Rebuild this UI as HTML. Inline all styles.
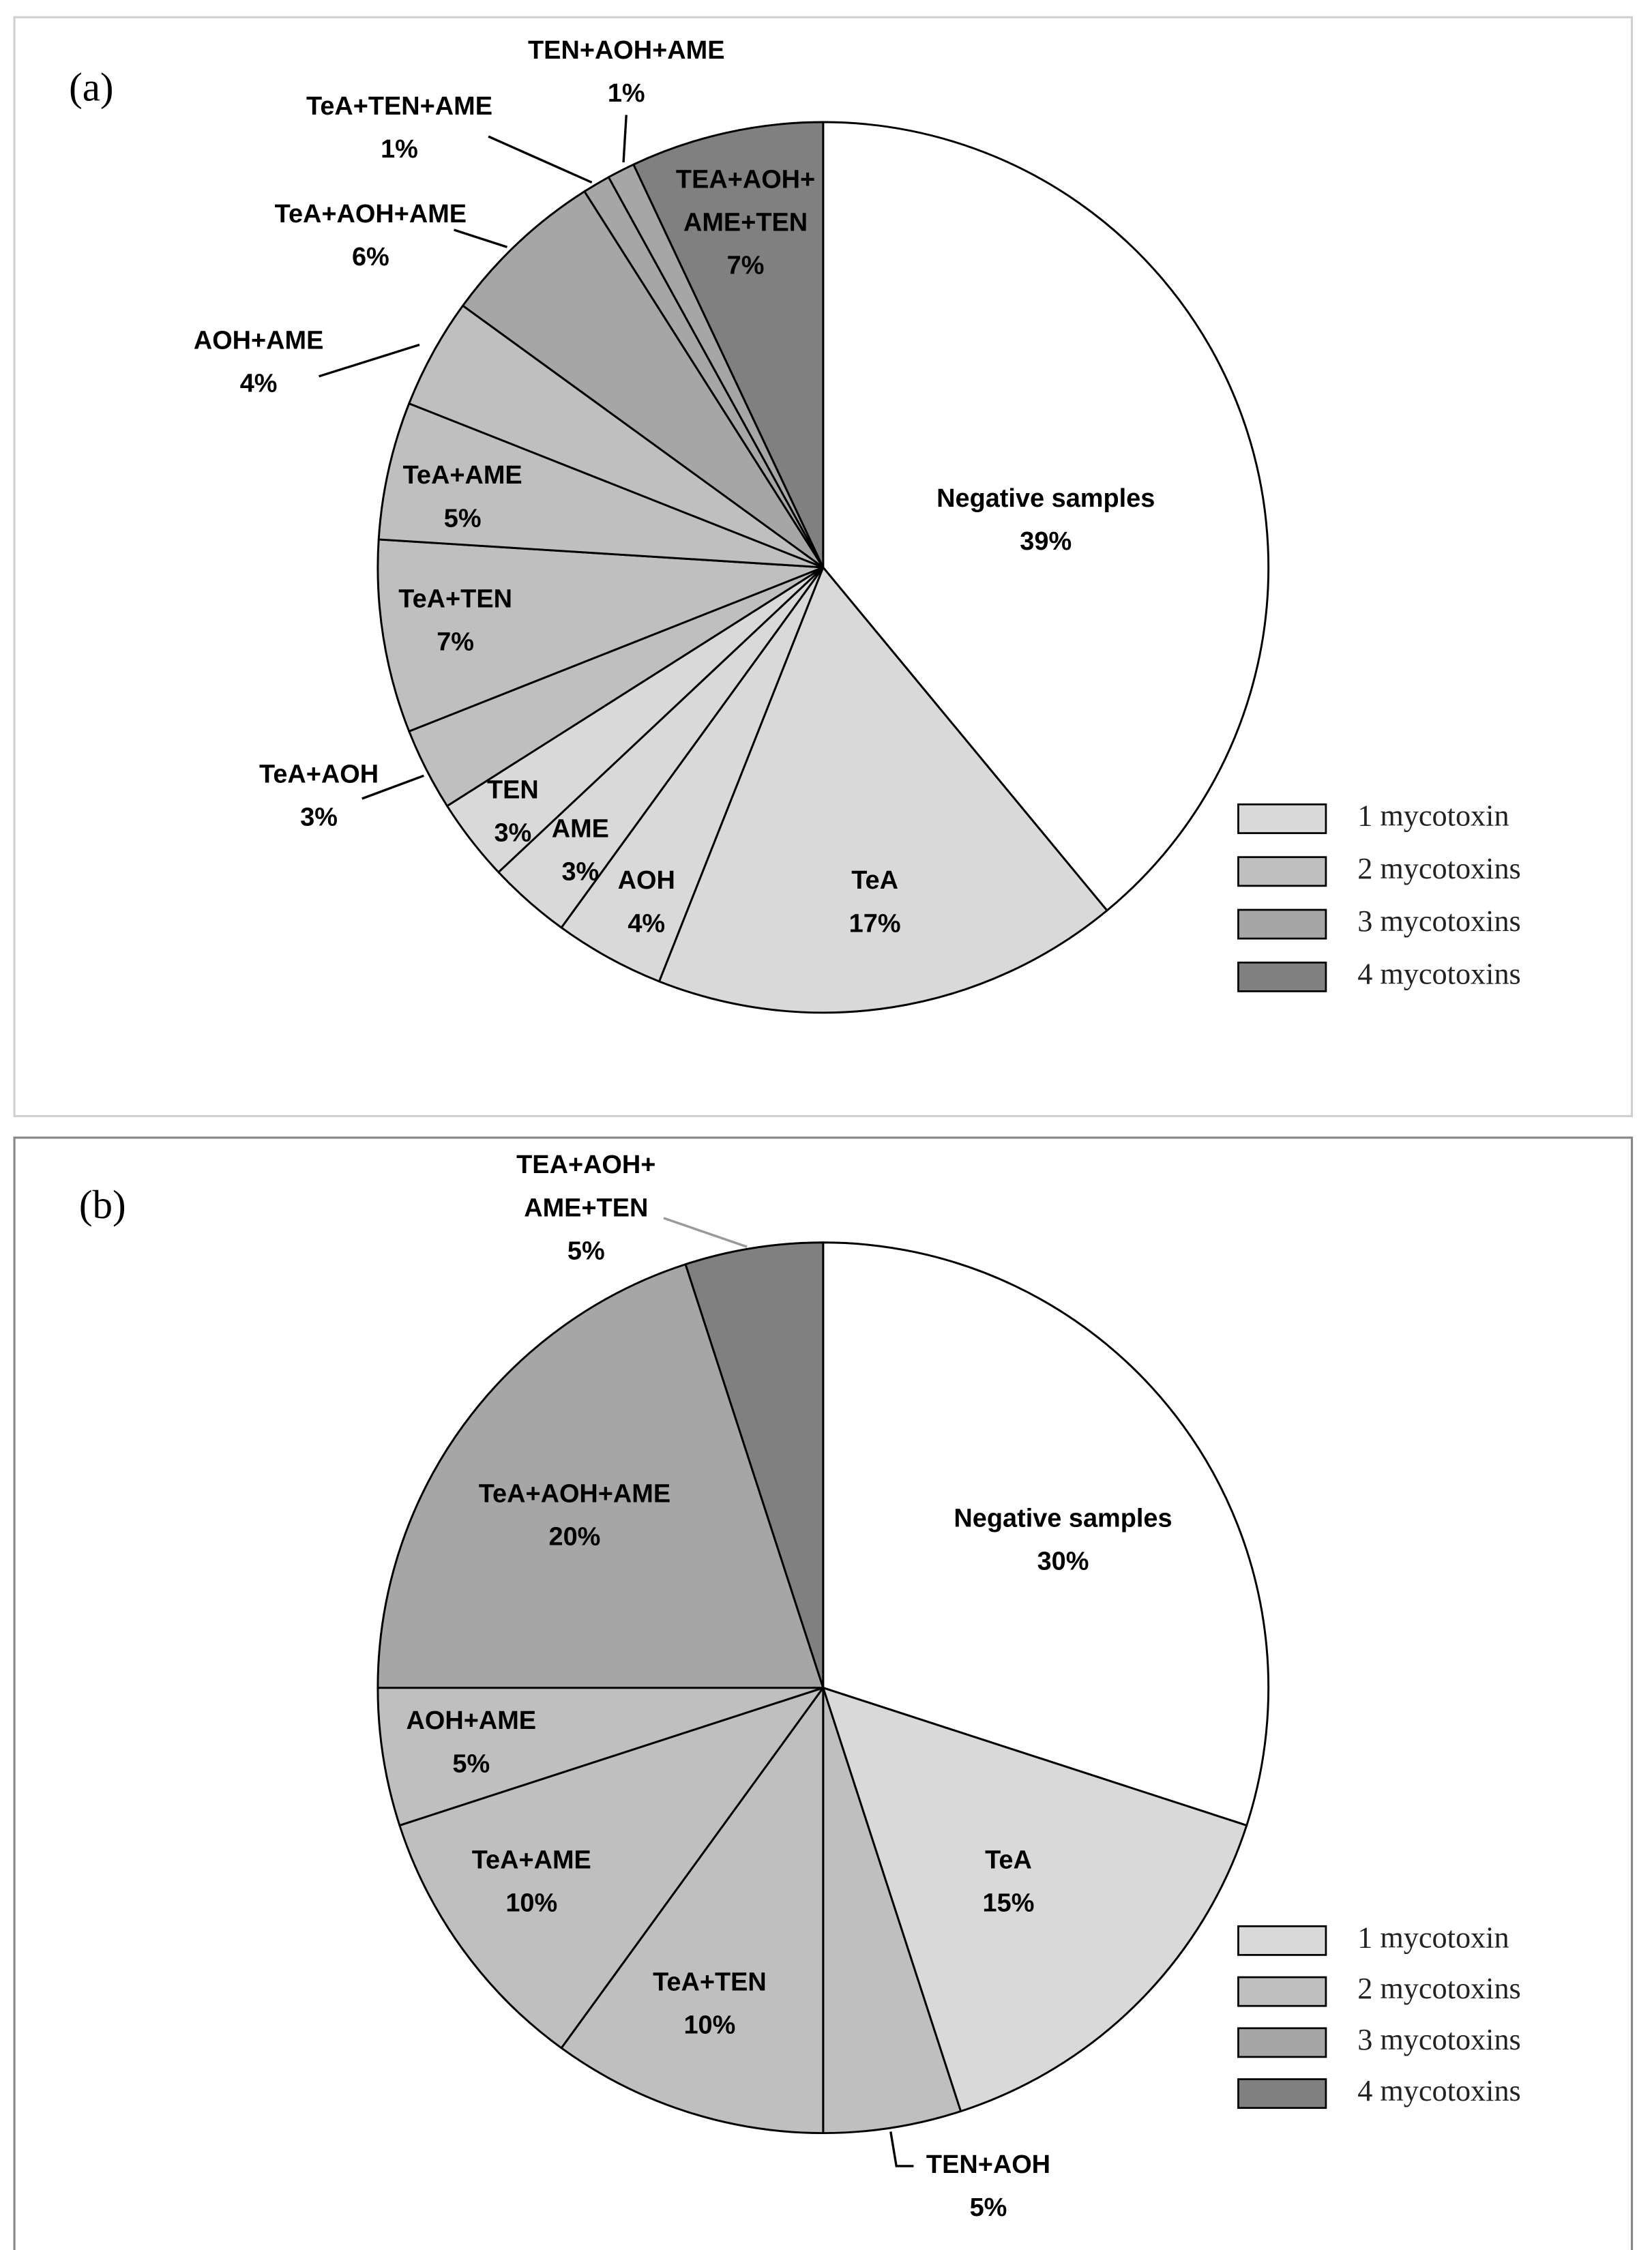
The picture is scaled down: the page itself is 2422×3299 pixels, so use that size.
<!DOCTYPE html>
<html><head><meta charset="utf-8"><style>
html,body{margin:0;padding:0;background:#fff;}
svg{display:block;}
.lb{font-family:"Liberation Sans",sans-serif;font-weight:bold;font-size:18px;fill:#000;text-anchor:middle;dominant-baseline:middle;}
.lg{font-family:"Liberation Serif",serif;font-size:21px;fill:#222;dominant-baseline:middle;}
.pl{font-family:"Liberation Serif",serif;font-size:28px;fill:#000;}
</style></head><body>
<svg id="chart" width="2422" height="3299" viewBox="0 0 1150 1566.4" xmlns="http://www.w3.org/2000/svg">
<rect x="10" y="12" width="1126" height="765" fill="#fff" stroke="#d0d0d0" stroke-width="1.5"/>
<rect x="10" y="792" width="1126" height="794" fill="#fff" stroke="#888" stroke-width="1.5"/>
<text class="pl" x="48" y="70">(a)</text>
<text class="pl" x="55" y="848">(b)</text>
<g id="ga"></g><g id="gb"></g>
</svg>
<script>
const catsA=["Negative samples","TeA","AOH","AME","TEN","TeA+AOH","TeA+TEN","TeA+AME","AOH+AME","TeA+AOH+AME","TeA+TEN+AME","TEN+AOH+AME","TEA+AOH+AME+TEN"];
const valsA=[39,17,4,3,3,3,7,5,4,6,1,1,7];
const grpA=[0,1,1,1,1,2,2,2,2,3,3,3,4];
const catsB=["Negative samples","TeA","TEN+AOH","TeA+TEN","TeA+AME","AOH+AME","TeA+AOH+AME","TEA+AOH+AME+TEN"];
const valsB=[30,15,5,10,10,5,20,5];
const grpB=[0,1,2,2,2,2,3,4];
const legendLabels=["1 mycotoxin","2 mycotoxins","3 mycotoxins","4 mycotoxins"];
const fills=["#ffffff","#d9d9d9","#bfbfbf","#a6a6a6","#808080"];
const NS="http://www.w3.org/2000/svg";
function mk(tag,attrs,parent){const e=document.createElementNS(NS,tag);for(const k in attrs)e.setAttribute(k,attrs[k]);parent.appendChild(e);return e;}
function pt(cx,cy,r,frac){const a=frac*2*Math.PI;return [cx+r*Math.sin(a),cy-r*Math.cos(a)];}
function drawPie(g,cats,vals,grp,cx,cy,r){
  const tot=vals.reduce((a,b)=>a+b,0);let acc=0;
  vals.forEach((v,i)=>{
    const f0=acc/tot,f1=(acc+v)/tot;acc+=v;
    const p0=pt(cx,cy,r,f0),p1=pt(cx,cy,r,f1);
    const large=(f1-f0)>0.5?1:0;
    const p=mk('path',{d:`M${cx},${cy}L${p0[0]},${p0[1]}A${r},${r} 0 ${large} 1 ${p1[0]},${p1[1]}Z`,fill:fills[grp[i]],stroke:'#000','stroke-width':1.4,'stroke-linejoin':'round'},g);
    
    
  });
}
function label(g,lines,x,y){lines.forEach((s,j)=>{const t=mk('text',{class:'lb',x:x,y:y+j*30},g);t.textContent=s;

});}
function leader(g,pts,col){const l=mk('polyline',{points:pts,fill:'none',stroke:col||'#000','stroke-width':1.6},g);

}
function legend(g,y0,dy){legendLabels.forEach((s,i)=>{const y=y0+i*dy;
const r=mk('rect',{x:862,y:y,width:61,height:20,fill:fills[i+1],stroke:'#000','stroke-width':1.3},g);


const t=mk('text',{class:'lg',x:945,y:y+10},g);t.textContent=s;

});}
const ga=document.getElementById('ga'),gb=document.getElementById('gb');
drawPie(ga,catsA,valsA,grpA,573,395,310);
drawPie(gb,catsB,valsB,grpB,573,1175,310);
const pa=v=>v+'%';
label(ga,["Negative samples",pa(valsA[0])],728,348);
label(ga,["TeA",pa(valsA[1])],609,614);
label(ga,["AOH",pa(valsA[2])],450,614);
label(ga,["AME",pa(valsA[3])],404,578);
label(ga,["TEN",pa(valsA[4])],357,551);
label(ga,["TeA+AOH",pa(valsA[5])],222,540);
label(ga,["TeA+TEN",pa(valsA[6])],317,418);
label(ga,["TeA+AME",pa(valsA[7])],322,332);
label(ga,["AOH+AME",pa(valsA[8])],180,238);
label(ga,["TeA+AOH+AME",pa(valsA[9])],258,150);
label(ga,["TeA+TEN+AME",pa(valsA[10])],278,75);
label(ga,["TEN+AOH+AME",pa(valsA[11])],436,36);
label(ga,["TEA+AOH+","AME+TEN",pa(valsA[12])],519,126);
leader(ga,"252,556 295,540");leader(ga,"222,262 292,240");leader(ga,"316,160 353,172");
leader(ga,"340,95 412,127");leader(ga,"436,80 434,113");
legend(ga,560,36.7);
label(gb,["Negative samples",pa(valsB[0])],740,1058);
label(gb,["TeA",pa(valsB[1])],702,1296);
label(gb,["TEN+AOH",pa(valsB[2])],688,1508);
label(gb,["TeA+TEN",pa(valsB[3])],494,1381);
label(gb,["TeA+AME",pa(valsB[4])],370,1296);
label(gb,["AOH+AME",pa(valsB[5])],328,1199);
label(gb,["TeA+AOH+AME",pa(valsB[6])],400,1041);
label(gb,["TEA+AOH+","AME+TEN",pa(valsB[7])],408,812);
leader(gb,"620,1484 624,1508 636,1508");leader(gb,"462,848 520,868","#999");
legend(gb,1341,35.5);
</script>
</body></html>
